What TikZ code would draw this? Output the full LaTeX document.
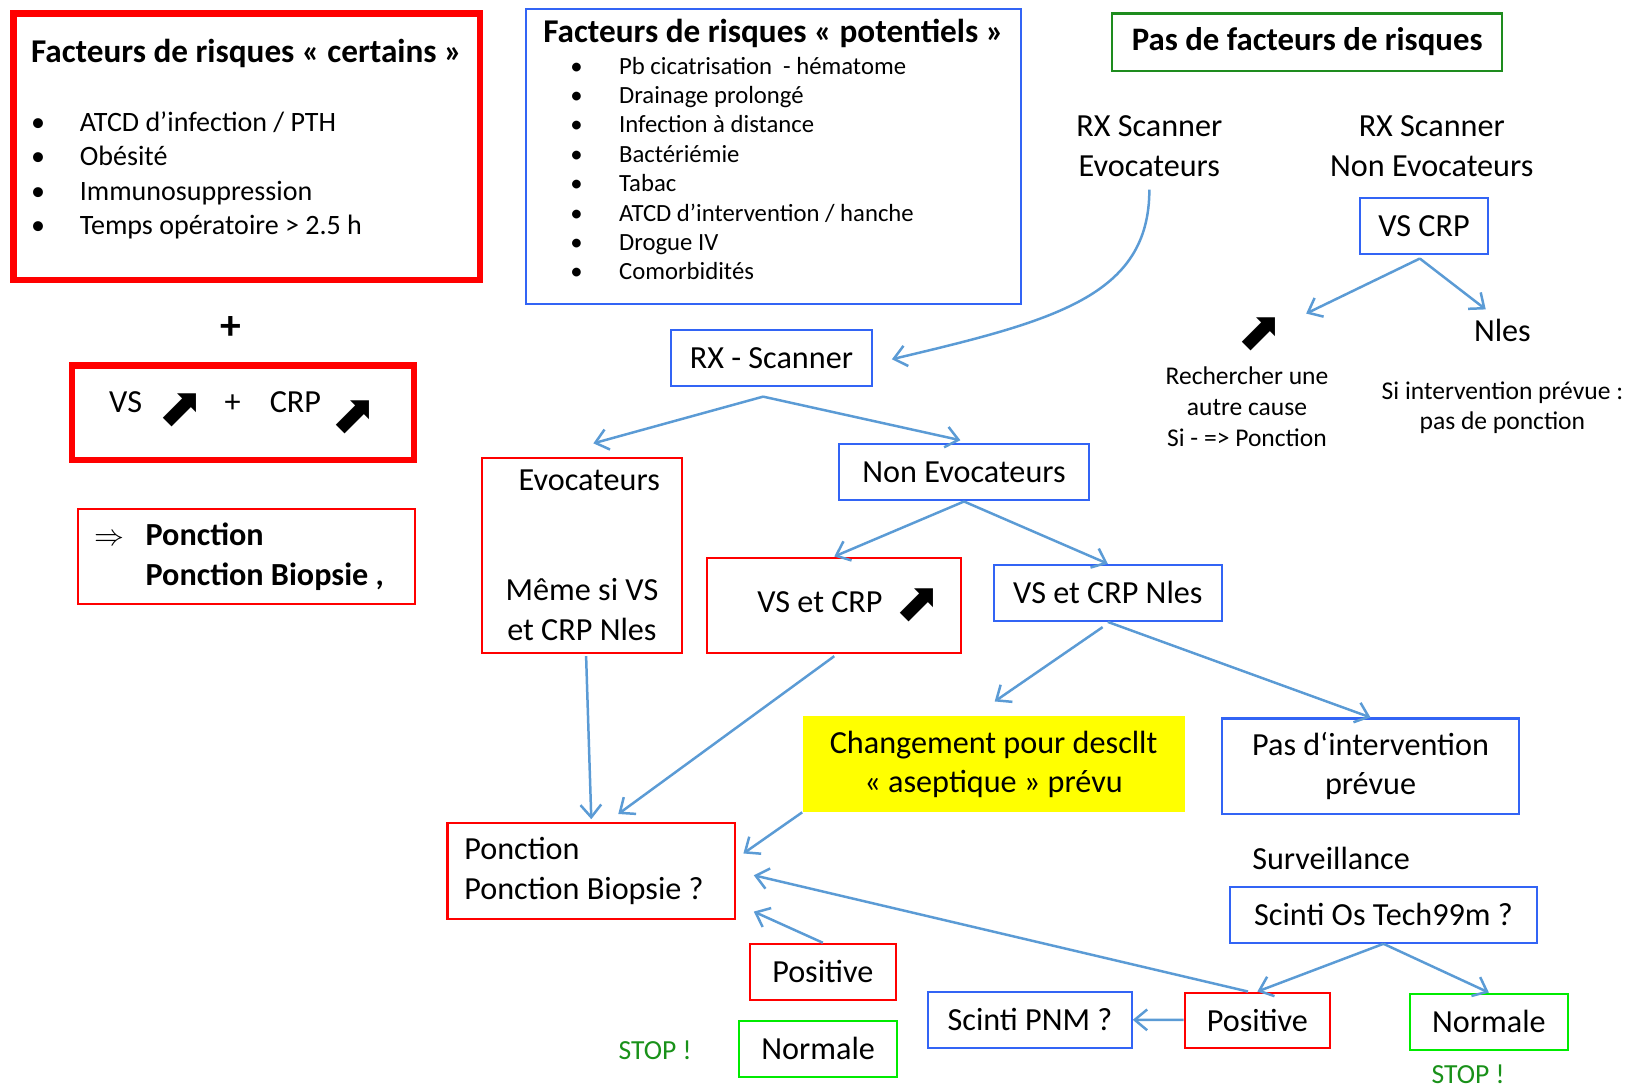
\documentclass[tikz,border=0pt]{standalone}
\usepackage{fontspec}
\setmainfont{Carlito}
\newfontfamily\symfont{DejaVu Sans}
\usetikzlibrary{arrows.meta,positioning,calc}
\definecolor{flowblue}{RGB}{91,155,213}
\definecolor{boxblue}{RGB}{50,100,245}
\definecolor{boxred}{RGB}{255,0,0}
\definecolor{boxgreen}{RGB}{0,235,0}
\definecolor{darkgreen}{RGB}{30,140,30}
\definecolor{stopgreen}{RGB}{25,145,25}
\definecolor{hiyellow}{RGB}{255,255,0}
\newcommand{\hausse}[1][26]{{\symfont\fontsize{#1}{#1}\selectfont ⬈}}
\newcommand{\puce}{\makebox[23.5pt][l]{•}}
\tikzset{
  base/.style={font=\fontsize{15.5}{19}\selectfont,inner sep=0pt,align=center},
  blk/.style={base,draw,line width=1pt},
  blkb/.style={blk,draw=boxblue},
  blkr/.style={blk,draw=boxred},
  blkg/.style={blk,draw=boxgreen},
  blkrr/.style={blk,draw=boxred,line width=3pt},
  flow/.style={-{Straight Barb[length=6pt,width=10pt]},line width=1.2pt,draw=flowblue},
  lbl/.style={base},
  stoplbl/.style={base,text=stopgreen,font=\fontsize{13.3}{15}\selectfont},
}

\begin{document}
\begin{tikzpicture}[x=0.5pt,y=-0.5pt]
  \useasboundingbox (0,0) rectangle (1568,1050);

  \node[blkrr,minimum width=224.5pt,minimum height=128.5pt,align=left,
        font=\fontsize{13.5}{16.5}\selectfont] (cert) at (237.5,141.5)
    {\textbf{\fontsize{16}{18}\selectfont Facteurs de risques « certains »}\\[17pt]
     \puce ATCD d’infection / PTH\\
     \puce Obésité\\
     \puce Immunosuppression\\
     \puce Temps opératoire > 2.5 h\rule[-10pt]{0pt}{0pt}};
  \node[lbl,font=\bfseries\fontsize{20}{20}\selectfont] (plus) at (222,316) {+};
  \node[blkrr,minimum width=165pt,minimum height=45.5pt] (bio) at (234,397.5)
    {VS\hspace{8pt}\raisebox{-6.4pt}{\hausse}\hspace{10pt}+\hspace{14pt}CRP\hspace{5pt}\raisebox{-9.4pt}{\hausse}};
  \node[blkr,minimum width=162.5pt,minimum height=46pt,align=left] (pb1) at (237.5,536)
    {\makebox[24.5pt][l]{$\Rightarrow$}\textbf{Ponction}\\
     \hspace*{24.5pt}\textbf{Ponction Biopsie ,}\hspace*{7pt}};

  \node[blkb,minimum width=238pt,minimum height=142pt,align=left,
        font=\fontsize{11.9}{14.15}\selectfont] (pot) at (745,151)
    {\textbf{\fontsize{16}{18}\selectfont Facteurs de risques « potentiels »}\\[1pt]
     \hspace*{13pt}\puce Pb cicatrisation \ - hématome\\
     \hspace*{13pt}\puce Drainage prolongé\\
     \hspace*{13pt}\puce Infection à distance\\
     \hspace*{13pt}\puce Bactériémie\\
     \hspace*{13pt}\puce Tabac\\
     \hspace*{13pt}\puce ATCD d’intervention / hanche\\
     \hspace*{13pt}\puce Drogue IV\\
     \hspace*{13pt}\puce Comorbidités\rule[-7pt]{0pt}{0pt}};

  \node[blk,draw=darkgreen,minimum width=188pt,minimum height=27.5pt,
        font=\bfseries\fontsize{15.8}{18}\selectfont] (pasfr) at (1259,40.5) {Pas de facteurs de risques};
  \node[lbl] (rxev) at (1107,141) {RX Scanner\\Evocateurs};
  \node[lbl] (rxnev) at (1379,141) {RX Scanner\\Non Evocateurs};
  \node[blkb,minimum width=61.5pt,minimum height=27pt] (vscrp) at (1371.5,218) {VS CRP};
  \node[lbl] (haut) at (1214,322) {\hausse};
  \node[lbl,font=\fontsize{12.3}{15}\selectfont] (cause) at (1201,392) {Rechercher une\\autre cause\\Si - => Ponction};
  \node[lbl] (nles) at (1447,318) {Nles};
  \node[lbl,font=\fontsize{12.3}{14.5}\selectfont] (siint) at (1447,392.5) {Si intervention prévue :\\pas de ponction};

  \node[blkb,minimum width=97pt,minimum height=27pt] (rxscan) at (743,345) {RX - Scanner};
  \node[blkr,minimum width=96.5pt,minimum height=94pt] (evoc) at (560.5,535)
    {\hspace*{7pt}Evocateurs\\[34pt]Même si VS\\et CRP Nles};
  \node[blkb,minimum width=120.5pt,minimum height=27pt] (nonev) at (928.5,455) {Non Evocateurs};
  \node[blkr,minimum width=122.5pt,minimum height=46pt] (vsup) at (803.5,583)
    {\hspace*{14pt}VS et CRP\hspace{6pt}\raisebox{-4pt}{\hausse}};
  \node[blkb,minimum width=110pt,minimum height=27pt] (vsnl) at (1067,571) {VS et CRP Nles};
  \node[base,fill=hiyellow,minimum width=184pt,minimum height=46pt] (chg) at (957,736)
    {Changement pour descllt\\« aseptique » prévu};
  \node[blkb,minimum width=143pt,minimum height=46pt] (pasint) at (1320,738) {Pas d‘intervention\\prévue};
  \node[lbl] (surv) at (1282,827) {Surveillance};
  \node[blkb,minimum width=147.5pt,minimum height=27pt] (scinti) at (1332.5,881) {Scinti Os Tech99m ?};
  \node[blkr,minimum width=70pt,minimum height=26.5pt] (pos2) at (1211,982.5) {Positive};
  \node[blkg,minimum width=76pt,minimum height=27pt] (norm2) at (1434,984) {Normale};
  \node[stoplbl] (stop2) at (1414,1035) {STOP !};
  \node[blkb,minimum width=98pt,minimum height=27pt] (pnm) at (992,982) {Scinti PNM ?};
  \node[blkr,minimum width=138.5pt,minimum height=46pt,align=left] (ponc2) at (569.5,839)
    {Ponction\\Ponction Biopsie ?\hspace*{7pt}};
  \node[blkr,minimum width=70.5pt,minimum height=27pt] (pos1) at (792.5,936) {Positive};
  \node[blkg,minimum width=76pt,minimum height=27pt] (norm1) at (788,1010) {Normale};
  \node[stoplbl] (stop1) at (631,1012) {STOP !};

  \draw[flow] ($(rxev.south)+(0,12)$) .. controls +(0,103) and +(156,-37) .. ($(rxscan.east)+(18,1)$);
  \draw[flow] ($(rxscan.south)+(-8,9)$) -- ($(evoc.north)+(11,-13)$);
  \draw[flow] ($(rxscan.south)+(-8,9)$) -- ($(nonev.north)+(-3.5,-3)$);
  \draw[flow] (nonev.south) -- (vsup.north);
  \draw[flow] (nonev.south) -- (vsnl.north);
  \draw[flow] ($(vsnl.south)+(-5,5)$) -- ($(chg.north)+(1,-14)$);
  \draw[flow] (vsnl.south) -- (pasint.north);
  \draw[flow] ($(vscrp.south)+(-4,3)$) -- ($(haut)+(44,-20)$);
  \draw[flow] ($(vscrp.south)+(-4,3)$) -- ($(nles)+(-16,-20)$);
  \draw[flow] (scinti.south) -- (pos2.north);
  \draw[flow] (scinti.south) -- (norm2.north);
  \draw[flow] (pos2) -- (pnm);
  \draw[flow] ($(pos2.north)+(-9,0)$) -- ($(ponc2.east)+(17,4)$);
  \draw[flow] (pos1.north) -- ($(ponc2.south east)+(17,-8)$);
  \draw[flow] ($(evoc.south)+(4,2)$) -- ($(ponc2.north)+(0,-3)$);
  \draw[flow] ($(vsup.south)+(0,2)$) -- ($(ponc2.north)+(26,-8)$);
  \draw[flow] (chg.south west) -- ($(ponc2.east)+(7,-17)$);
\end{tikzpicture}
\end{document}
